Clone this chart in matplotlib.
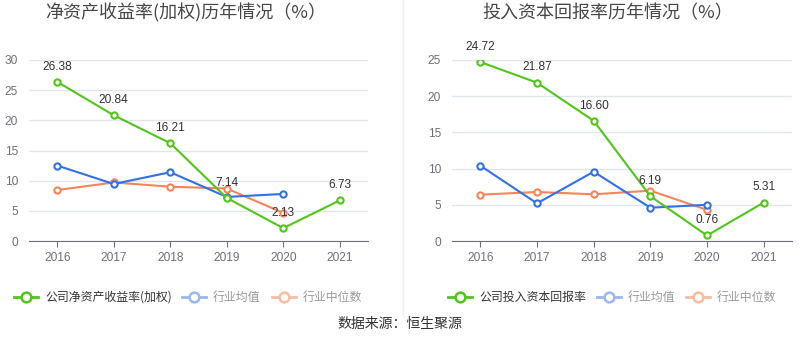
import matplotlib
matplotlib.use("Agg")
import matplotlib.pyplot as plt
from matplotlib.lines import Line2D

plt.rcParams['font.family'] = ['Noto Sans CJK SC', 'DejaVu Sans']
NUMFONT = ['Liberation Sans', 'DejaVu Sans']

years = ['2016', '2017', '2018', '2019', '2020', '2021']

roe_company = [26.38, 20.84, 16.21, 7.14, 2.13, 6.73]
roe_avg = [12.5, 9.45, 11.4, 7.3, 7.8]
roe_median = [8.45, 9.7, 9.0, 8.7, 4.65]

roic_company = [24.72, 21.87, 16.60, 6.19, 0.76, 5.31]
roic_avg = [10.4, 5.2, 9.57, 4.6, 5.0]
roic_median = [6.4, 6.77, 6.45, 6.95, 4.3]

title_left = '净资产收益率(加权)历年情况（%）'
title_right = '投入资本回报率历年情况（%）'
legend_left = ['公司净资产收益率(加权)', '行业均值', '行业中位数']
legend_right = ['公司投入资本回报率', '行业均值', '行业中位数']
source = '数据来源：恒生聚源'

GREEN = '#52c41a'
BLUE = '#3370e6'
ORANGE = '#f5845a'
LBLUE = '#9ab6f3'
LORANGE = '#f9bba2'

W, H = 800, 358
fig = plt.figure(figsize=(W / 100, H / 100), dpi=100)


def px_axes(x0, y0, x1, y1):
    return fig.add_axes([x0 / W, 1 - y1 / H, (x1 - x0) / W, (y1 - y0) / H])


def draw(ax, comp, avg, med, ymax, step):
    x = list(range(len(years)))
    ax.set_xlim(-0.5, len(years) - 0.5)
    ax.set_ylim(0, ymax)
    ax.set_yticks(list(range(0, ymax + 1, step)))
    ax.set_xticks(x)
    ax.set_xticklabels(years)
    ax.grid(axis='y', color='#e0e6f1', linewidth=1)
    ax.set_axisbelow(True)
    for s in ['top', 'right', 'left']:
        ax.spines[s].set_visible(False)
    ax.spines['bottom'].set_color('#6e7079')
    ax.tick_params(axis='y', length=0, labelsize=8.6, labelcolor='#6e7079', pad=8)
    ax.tick_params(axis='x', length=4, color='#6e7079', labelsize=8.6, labelcolor='#6e7079', pad=4)
    for lab in ax.get_xticklabels() + ax.get_yticklabels():
        lab.set_family(NUMFONT)
    mk = dict(marker='o', markersize=4.5, markerfacecolor='white', markeredgewidth=1.5, linewidth=1.5)
    ax.plot(x[:len(med)], med, color=ORANGE, markeredgecolor=ORANGE, zorder=3, **mk)
    ax.plot(x[:len(avg)], avg, color=BLUE, markeredgecolor=BLUE, zorder=3, **mk)
    ax.plot(x, comp, color=GREEN, markeredgecolor=GREEN, zorder=4, **mk)
    for xi, v in zip(x, comp):
        ax.annotate(f'{v:.2f}', (xi, v), xytext=(0, 11), textcoords='offset points',
                    ha='center', va='center', fontsize=8.6, color='#333333', zorder=5,
                    family=NUMFONT)


axL = px_axes(29, 60, 368, 241)
draw(axL, roe_company, roe_avg, roe_median, 30, 5)
axR = px_axes(452, 60, 792, 241)
draw(axR, roic_company, roic_avg, roic_median, 25, 5)

fig.text(186 / W, 1 - 13 / H, title_left, ha='center', va='center', fontsize=13, color='#464646')
fig.text(608 / W, 1 - 13 / H, title_right, ha='center', va='center', fontsize=13, color='#464646')

# divider
fig.add_artist(Line2D([403 / W, 403 / W], [1 - 0 / H, 1 - 316 / H], color='#eeeeee', linewidth=1))


def legend_item(x0, label, color, tcolor):
    y = 1 - 297 / H
    fig.add_artist(Line2D([x0 / W, (x0 + 24) / W], [y, y], color=color, linewidth=2))
    fig.add_artist(Line2D([(x0 + 12) / W], [y], color=color, marker='o', markersize=7,
                          markerfacecolor='white', markeredgewidth=1.8, linewidth=0))
    fig.text((x0 + 31) / W, y, label, ha='left', va='center', fontsize=8.6, color=tcolor)


legend_item(14, legend_left[0], GREEN, '#333333')
legend_item(182, legend_left[1], LBLUE, '#999999')
legend_item(272, legend_left[2], LORANGE, '#999999')
legend_item(448, legend_right[0], GREEN, '#333333')
legend_item(597, legend_right[1], LBLUE, '#999999')
legend_item(686, legend_right[2], LORANGE, '#999999')

fig.text(400 / W, 1 - 324 / H, source, ha='center', va='center', fontsize=10, color='#333333')

fig.savefig('out.png', dpi=100)
